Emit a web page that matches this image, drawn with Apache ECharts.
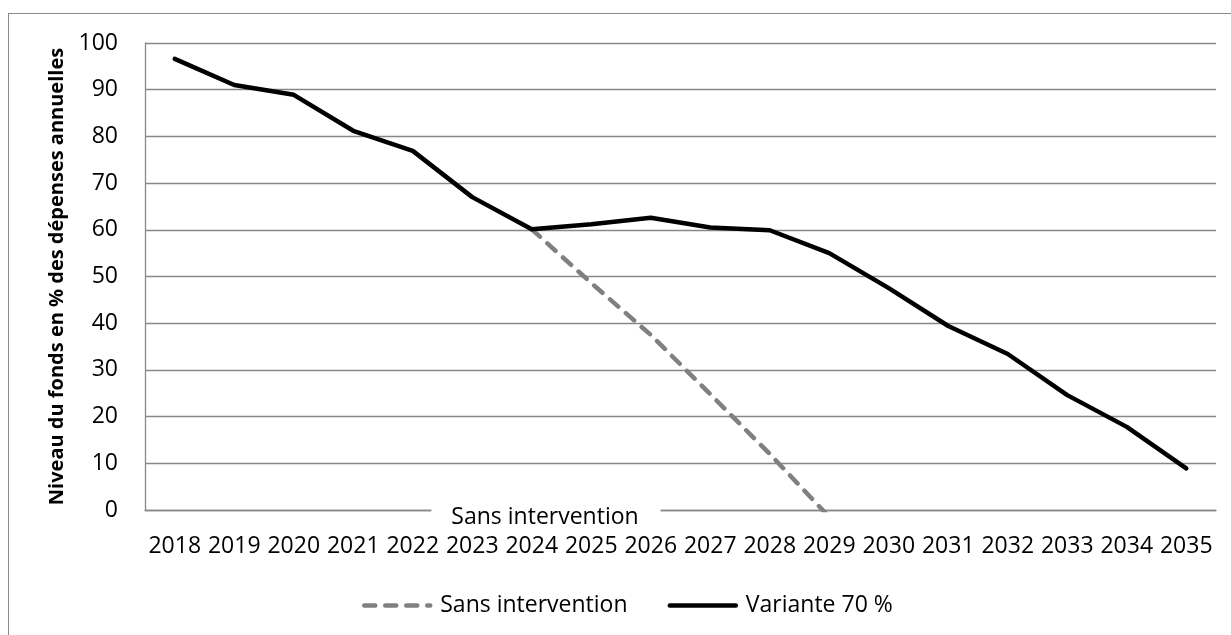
<!DOCTYPE html>
<html>
<head>
<meta charset="utf-8">
<script src="https://cdn.jsdelivr.net/npm/echarts@6/dist/echarts.min.js"></script>
<style>
html,body{margin:0;padding:0;background:#fff;}
#frame{position:absolute;left:8px;top:13px;width:1240px;height:640px;border:1.5px solid #8a8a8a;box-sizing:border-box;}
#chart{position:absolute;left:0;top:0;width:1231px;height:635px;}
</style>
</head>
<body>
<div id="frame"></div>
<div id="chart"></div>
<script>
const years = ['2018','2019','2020','2021','2022','2023','2024','2025','2026','2027','2028','2029','2030','2031','2032','2033','2034','2035'];
const sansIntervention = [null,null,null,null,null,null,60.1,48.6,37.5,24.8,12.0,-1.5,null,null,null,null,null,null];
const variante70 = [96.6,91.0,88.9,81.2,76.9,67.0,60.1,61.2,62.6,60.5,59.9,55.0,47.5,39.4,33.4,24.6,17.8,8.9];
const yTicks = [0,10,20,30,40,50,60,70,80,90,100];
const seriesNames = ['Sans intervention','Variante 70 %'];
const yTitle = 'Niveau du fonds en % des dépenses annuelles';
const labelIndex = 10;

const FONT = 'Open Sans';
const sansData = sansIntervention.map((v, i) => {
  if (i === labelIndex) {
    return {
      value: v,
      symbol: 'circle',
      symbolSize: 1,
      label: {
        show: true,
        position: 'inside',
        formatter: seriesNames[0],
        offset: [546 - 769.75, 517 - 454],
        color: '#000',
        fontFamily: FONT,
        fontSize: 23,
        backgroundColor: '#fff',
        padding: [3, 22, 3, 20]
      }
    };
  }
  return v;
});

const chart = echarts.init(document.getElementById('chart'));
chart.setOption({
  animation: false,
  backgroundColor: 'transparent',
  grid: {left: 145, top: 43, right: 15, bottom: 125, containLabel: false},
  legend: {
    left: 357, top: 589,
    itemWidth: 66, itemHeight: 14, itemGap: 40,
    itemStyle: {opacity: 0},
    lineStyle: {width: 4.5, cap: 'round'},
    textStyle: {fontFamily: FONT, fontSize: 23, color: '#000', padding: [0, 0, 0, 5]},
    data: seriesNames
  },
  xAxis: {
    type: 'category',
    data: years,
    boundaryGap: true,
    axisLine: {show: true, lineStyle: {color: '#888', width: 1.3}},
    axisTick: {show: false},
    axisLabel: {color: '#000', fontFamily: FONT, fontSize: 23, margin: 25, interval: 0}
  },
  yAxis: {
    type: 'value',
    min: yTicks[0], max: yTicks[yTicks.length - 1], interval: 10,
    name: yTitle,
    nameLocation: 'middle',
    nameGap: 75,
    nameTextStyle: {color: '#000', fontFamily: FONT, fontSize: 20, fontWeight: 'bold'},
    axisLine: {show: true, lineStyle: {color: '#888', width: 1.3}},
    axisTick: {show: false},
    splitLine: {show: true, lineStyle: {color: '#888', width: 1.3}},
    axisLabel: {color: '#000', fontFamily: FONT, fontSize: 23, margin: 27}
  },
  series: [
    {
      name: seriesNames[0],
      type: 'line',
      data: sansData,
      symbol: 'none',
      color: '#808080',
      lineStyle: {color: '#808080', width: 4.5, type: [11, 10], cap: 'round', join: 'round'},
      z: 3
    },
    {
      name: seriesNames[1],
      type: 'line',
      data: variante70,
      symbol: 'none',
      color: '#000',
      lineStyle: {color: '#000', width: 4.5, cap: 'round', join: 'round'},
      z: 4
    }
  ]
});
</script>
</body>
</html>
